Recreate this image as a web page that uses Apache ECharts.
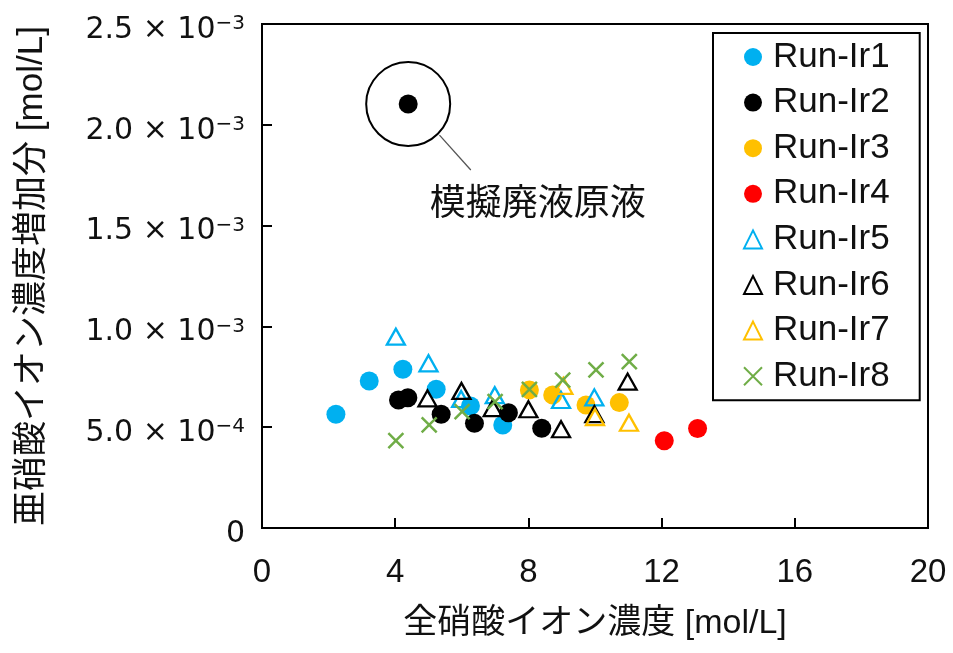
<!DOCTYPE html>
<html>
<head>
<meta charset="utf-8">
<script src="https://cdn.jsdelivr.net/npm/echarts@6/dist/echarts.min.js"></script>
<style>
html,body{margin:0;padding:0;background:#fff;}
#chart{width:953px;height:653px;}
</style>
</head>
<body>
<div id="chart"></div>
<script>
// ---- data (x: 全硝酸イオン濃度 [mol/L], y: 亜硝酸イオン濃度増加分 [mol/L]) ----
const seriesNames = ['Run-Ir1','Run-Ir2','Run-Ir3','Run-Ir4','Run-Ir5','Run-Ir6','Run-Ir7','Run-Ir8'];
const runIr1 = [[2.22,5.64e-4],[3.22,7.29e-4],[4.23,7.87e-4],[5.23,6.88e-4],[6.26,6.05e-4],[7.23,5.11e-4]];
const runIr2 = [[4.10,6.35e-4],[4.38,6.46e-4],[5.38,5.64e-4],[6.38,5.19e-4],[7.40,5.72e-4],[8.40,4.95e-4]];
const runIr3 = [[8.03,6.85e-4],[8.73,6.60e-4],[9.73,6.10e-4],[10.73,6.22e-4]];
const runIr4 = [[12.08,4.33e-4],[13.08,4.94e-4]];
const runIr5 = [[4.02,9.49e-4],[5.00,8.17e-4],[5.98,6.40e-4],[6.99,6.59e-4],[8.98,6.35e-4],[9.98,6.48e-4]];
const runIr6 = [[4.97,6.43e-4],[5.99,6.80e-4],[6.93,5.95e-4],[8.00,5.89e-4],[8.98,4.90e-4],[9.98,5.65e-4],[10.98,7.26e-4]];
const runIr7 = [[9.05,7.05e-4],[10.00,5.50e-4],[11.02,5.22e-4]];
const runIr8 = [[4.02,4.33e-4],[5.02,5.11e-4],[6.01,5.77e-4],[7.00,6.27e-4],[8.03,6.88e-4],[9.03,7.34e-4],[10.03,7.84e-4],[11.03,8.25e-4]];
const stockSolution = [[4.39,2.103e-3]];
const stockLabel = '模擬廃液原液';

// axis ticks
const xTickLabels = ['0','4','8','12','16','20'];
const yTickMantissa = ['0','5.0','1.0','1.5','2.0','2.5'];
const yTickExponent = ['','−4','−3','−3','−3','−3'];
const xTitle = '全硝酸イオン濃度 [mol/L]';
const yTitle = '亜硝酸イオン濃度増加分 [mol/L]';

// annotation geometry (data coordinates)
const leaderFrom = [5.33, 1.949e-3];
const leaderTo = [6.27, 1.776e-3];
const labelAt = [8.28, 1.619e-3];

const colors = {blue:'#00B0F0', black:'#000000', orange:'#FFC000', red:'#FF0000', green:'#70AD47'};
const crossPath = 'path://M0,0L10,10M10,0L0,10';
const latin = 'Liberation Sans, Arial, Noto Sans CJK JP';
const cjk = 'Liberation Sans, Noto Sans CJK JP';

function dot(name, data, color){
  return {name, type:'scatter', data, symbol:'circle', symbolSize:19,
    itemStyle:{color, opacity:1}, z:2};
}
function tri(name, data, color){
  return {name, type:'scatter', data, symbol:'triangle', symbolSize:[18,16],
    itemStyle:{color:'rgba(255,255,255,0)', borderColor:color, borderWidth:2.3, opacity:1}, z:3};
}

const chart = echarts.init(document.getElementById('chart'), null, {renderer:'canvas'});
chart.setOption({
  animation:false,
  backgroundColor:'#fff',
  grid:{left:262, top:24, right:25, bottom:125, show:true, borderColor:'#000', borderWidth:2, containLabel:false},
  xAxis:{
    type:'value', min:0, max:20, interval:4,
    name:xTitle, nameLocation:'middle', nameGap:79,
    nameTextStyle:{fontFamily:cjk, fontSize:34, color:'#111'},
    axisLine:{show:true, onZero:false, lineStyle:{color:'#000', width:2}},
    axisTick:{show:true, inside:true, length:10, lineStyle:{color:'#000', width:2}},
    axisLabel:{margin:28, fontFamily:latin, fontSize:33, color:'#111',
      formatter:(v)=>xTickLabels[Math.round(v/4)]},
    splitLine:{show:false}
  },
  yAxis:{
    type:'value', min:0, max:0.0025, interval:0.0005,
    name:yTitle, nameLocation:'middle', nameGap:212, nameRotate:90,
    nameTextStyle:{fontFamily:cjk, fontSize:35, color:'#111'},
    axisLine:{show:true, onZero:false, lineStyle:{color:'#000', width:2}},
    axisTick:{show:true, inside:true, length:10, lineStyle:{color:'#000', width:2}},
    axisLabel:{margin:17, padding:[10,0,0,0],
      formatter:(v)=>{
        const i = Math.round(v/0.0005);
        if(!yTickExponent[i]) return '{b|'+yTickMantissa[i]+'}';
        return '{b|'+yTickMantissa[i]+' × 10}{s|'+yTickExponent[i]+'}';
      },
      rich:{
        b:{fontFamily:'DejaVu Sans', fontSize:30, lineHeight:32, verticalAlign:'bottom', color:'#111'},
        s:{fontFamily:'DejaVu Sans', fontSize:20, lineHeight:20, padding:[0,0,11,0], verticalAlign:'bottom', color:'#111'}
      }
    },
    splitLine:{show:false}
  },
  legend:{
    orient:'vertical', left:713, top:33,
    data:seriesNames,
    padding:[6,30,6,30],
    itemWidth:18, itemHeight:18, itemGap:9.6,
    borderColor:'#000', borderWidth:2, backgroundColor:'#fff',
    textStyle:{fontFamily:latin, fontSize:35, lineHeight:36, color:'#111', padding:[0,0,0,6]}
  },
  series:[
    dot(seriesNames[0], runIr1, colors.blue),
    dot(seriesNames[1], runIr2, colors.black),
    dot(seriesNames[2], runIr3, colors.orange),
    dot(seriesNames[3], runIr4, colors.red),
    tri(seriesNames[4], runIr5, colors.blue),
    tri(seriesNames[5], runIr6, colors.black),
    tri(seriesNames[6], runIr7, colors.orange),
    {name:seriesNames[7], type:'scatter', data:runIr8, symbol:crossPath, symbolSize:15,
      itemStyle:{color:'rgba(255,255,255,0)', borderColor:colors.green, borderWidth:2.5, opacity:1}, z:4},
    {name:stockLabel, type:'scatter', data:stockSolution, symbol:'circle', symbolSize:19,
      itemStyle:{color:colors.black, opacity:1}, z:2},
    {name:stockLabel+'-ring', type:'scatter', data:stockSolution, symbol:'circle', symbolSize:84,
      itemStyle:{color:'rgba(255,255,255,0)', borderColor:'#000', borderWidth:2, opacity:1}, z:1, silent:true,
      markLine:{silent:true, symbol:['none','none'], animation:false,
        label:{show:false},
        lineStyle:{color:'#555', width:1.3, type:'solid'},
        data:[[{coord:leaderFrom},{coord:leaderTo}]]},
      markPoint:{silent:true, animation:false, symbol:'circle', symbolSize:0,
        itemStyle:{color:'rgba(0,0,0,0)'},
        label:{show:true, position:'inside', formatter:stockLabel,
          fontFamily:'Noto Sans CJK JP', fontSize:36, color:'#111'},
        data:[{coord:labelAt}]}
    }
  ]
});
</script>
</body>
</html>
